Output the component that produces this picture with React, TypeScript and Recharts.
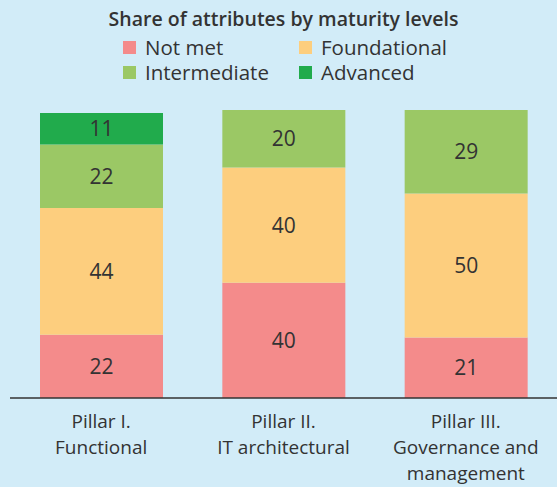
import { BarChart, Bar, XAxis, YAxis, LabelList } from 'recharts';

const categories = ['Pillar I.|Functional', 'Pillar II.|IT architectural', 'Pillar III.|Governance and|management'];
const notMet = [22, 40, 21];
const foundational = [44, 40, 50];
const intermediate = [22, 20, 29];
const advanced = [11, null, null];

const series = [
    { key: 'notMet', name: 'Not met', color: '#F48B8B' },
    { key: 'foundational', name: 'Foundational', color: '#FDCE7E' },
    { key: 'intermediate', name: 'Intermediate', color: '#9BC865' },
    { key: 'advanced', name: 'Advanced', color: '#21AB4C' },
];

const data = categories.map((c, i) => ({
    name: c,
    notMet: notMet[i],
    foundational: foundational[i],
    intermediate: intermediate[i],
    advanced: advanced[i],
}));

const FONT = '"Open Sans", sans-serif';
const TEXT = '#333333';

if (typeof document !== 'undefined') document.body.style.margin = '0';

function PillarTick(props: any) {
    const { x, y, payload } = props;
    const lines = String(payload.value).split('|');
    return (
        <text x={x} y={y} textAnchor="middle" fill={TEXT} fontSize={19} fontFamily={FONT}>
            {lines.map((l, i) => (
                <tspan key={i} x={x} dy={i === 0 ? 22 : 26}>{l}</tspan>
            ))}
        </text>
    );
}

function LegendItem({ name, color, left, top }: { name: string; color: string; left: number; top: number }) {
    return (
        <div style={{ position: 'absolute', left, top, display: 'flex', alignItems: 'center', gap: 9 }}>
            <div style={{ width: 13, height: 13, background: color }} />
            <span style={{ fontSize: 20.5, color: TEXT, lineHeight: '20px' }}>{name}</span>
        </div>
    );
}

export default function App() {
    return (
        <div style={{ position: 'relative', width: 557, height: 487, background: '#D2ECF8', fontFamily: FONT, overflow: 'hidden' }}>
            <div style={{ position: 'absolute', left: 0, width: 567, top: 5, textAlign: 'center', fontSize: 19.5, fontWeight: 600, color: TEXT }}>
                Share of attributes by maturity levels
            </div>
            <LegendItem name="Not met" color={series[0].color} left={123} top={37} />
            <LegendItem name="Foundational" color={series[1].color} left={299} top={37} />
            <LegendItem name="Intermediate" color={series[2].color} left={123} top={62} />
            <LegendItem name="Advanced" color={series[3].color} left={299} top={62} />
            <div style={{ position: 'absolute', left: 0, top: 0 }}>
                <BarChart width={557} height={487} data={data} margin={{ top: 110, right: 0, left: 10, bottom: 0 }} barSize={123}>
                    <XAxis
                        dataKey="name"
                        axisLine={{ stroke: '#333', strokeWidth: 1.5 }}
                        tickLine={false}
                        tick={<PillarTick />}
                        height={89}
                        interval={0}
                    />
                    <YAxis hide domain={[0, 100]} />
                    {series.map((s) => (
                        <Bar key={s.key} dataKey={s.key} stackId="a" fill={s.color} isAnimationActive={false}>
                            <LabelList
                                dataKey={s.key}
                                position="center"
                                fill={TEXT}
                                fontSize={21}
                                fontFamily={FONT}
                                formatter={(v: any) => (v == null || v === 0 ? '' : v)}
                            />
                        </Bar>
                    ))}
                </BarChart>
            </div>
        </div>
    );
}
